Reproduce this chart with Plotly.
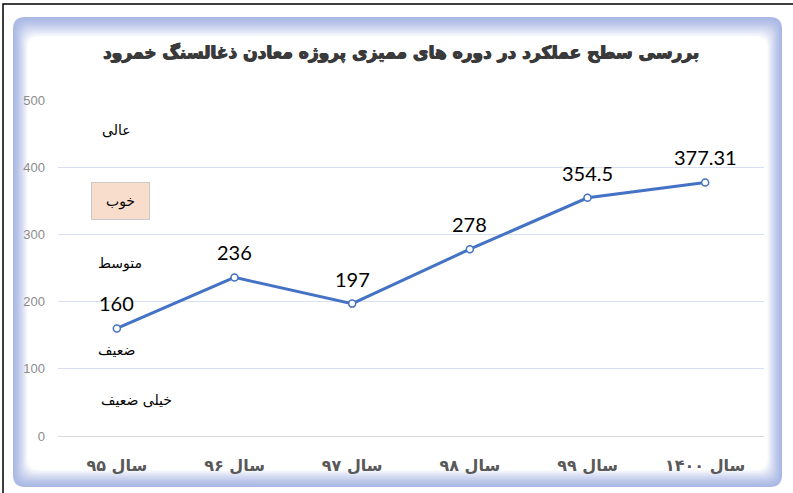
import plotly.graph_objects as go

categories = ["سال ۹۵", "سال ۹۶", "سال ۹۷", "سال ۹۸", "سال ۹۹", "سال ۱۴۰۰"]
values = [160, 236, 197, 278, 354.5, 377.31]
value_labels = ["160", "236", "197", "278", "354.5", "377.31"]
band_labels = ["عالی", "خوب", "متوسط", "ضعیف", "خیلی ضعیف"]
band_values = [455, 349, 257, 128, 54]
title_text = "بررسی سطح عملکرد در دوره های ممیزی پروژه معادن ذغالسنگ خمرود"

W, H = 793, 493
L, R, T, B = 58, 29, 100, 57
PW, PH = W - L - R, H - T - B

def px(x):
    return (x - L) / PW

def py(y):
    return (H - B - y) / PH

def rrect(x0, y0, x1, y1, r):
    a, b, c, d = px(x0), py(y0), px(x1), py(y1)
    rx, ry = r / PW, r / PH
    return (f"M {a+rx},{b} L {c-rx},{b} Q {c},{b} {c},{b-ry} L {c},{d+ry} "
            f"Q {c},{d} {c-rx},{d} L {a+rx},{d} Q {a},{d} {a},{d+ry} L {a},{b-ry} Q {a},{b} {a+rx},{b} Z")

def mix(c1, c2, t):
    return "rgb(%d,%d,%d)" % tuple(round(c1[i] + (c2[i] - c1[i]) * t) for i in range(3))

shapes = []
# outer black border
shapes.append(dict(type="rect", xref="paper", yref="paper", x0=px(3), x1=px(820), y0=py(4), y1=py(520),
                   line=dict(color="black", width=1.5), fillcolor="white", layer="below"))
# glowing frame
outer = (13, 17, 782, 487)
blue = (170, 184, 228)
white = (255, 255, 255)
N = 12
for i in range(N + 1):
    t = i / N
    col = mix(blue, white, t ** 1.3)
    shapes.append(dict(type="path", xref="paper", yref="paper",
                       path=rrect(outer[0] + i * 1.2, outer[1] + i * 1.6, outer[2] - i * 1.2, outer[3] - i * 1.4, 12),
                       fillcolor=col, line=dict(width=0), layer="below"))

fig = go.Figure()
fig.add_trace(go.Scatter(
    x=list(range(len(categories))), y=values, mode="lines+markers",
    line=dict(color="#4472c4", width=3),
    marker=dict(symbol="circle", size=7, color="white", line=dict(color="#4472c4", width=1.5)),
    cliponaxis=False, showlegend=False, hoverinfo="skip",
))

annotations = [dict(text=f"<b>{title_text}</b>", xref="paper", yref="paper", x=px(401), y=py(52),
                    showarrow=False,
                    font=dict(family="DejaVu Sans", size=17, color="#3a3a3a",
                              shadow="0.6px 0 0 #3a3a3a, -0.6px 0 0 #3a3a3a, 0 0.5px 0 #3a3a3a"),
                    xanchor="center", yanchor="middle")]
for i, (v, lab) in enumerate(zip(values, value_labels)):
    annotations.append(dict(text=lab, x=i, y=v, xref="x", yref="y", showarrow=False, yshift=25,
                            font=dict(family="Lato, Open Sans, sans-serif", size=20, color="black")))
xshifts = [0, 4, 3, 0, 20]
for lab, v, xs in zip(band_labels, band_values, xshifts):
    a = dict(text=lab, x=0, y=v, xref="x", yref="y", showarrow=False, xshift=xs,
             font=dict(family="DejaVu Sans", size=14, color="black"))
    if lab == "خوب":
        a.update(bgcolor="#f8dccc", bordercolor="#c9c9c9", borderwidth=1, width=55, height=34)
    annotations.append(a)

fig.update_layout(
    width=W, height=H, margin=dict(l=L, r=R, t=T, b=B),
    paper_bgcolor="white", plot_bgcolor="rgba(0,0,0,0)",
    shapes=shapes, annotations=annotations,
    xaxis=dict(tickmode="array", tickvals=list(range(len(categories))), ticktext=categories,
               range=[-0.5, len(categories) - 0.5], showgrid=False, zeroline=False, showline=False,
               ticks="", ticklabelstandoff=18,
               tickfont=dict(family="DejaVu Sans", size=16, color="#595959", weight="bold")),
    yaxis=dict(range=[0, 500], dtick=100, showgrid=True, gridcolor="#d6e0f2", gridwidth=1,
               zeroline=True, zerolinecolor="#d9d9d9", zerolinewidth=1, showline=False,
               ticks="", ticklabelstandoff=12,
               tickfont=dict(family="Liberation Sans, Arial", size=13, color="#8c8c8c")),
)

fig.write_html("out.html", config={"displayModeBar": False},
               post_script="document.body.style.margin='0';document.body.style.overflow='hidden';")
